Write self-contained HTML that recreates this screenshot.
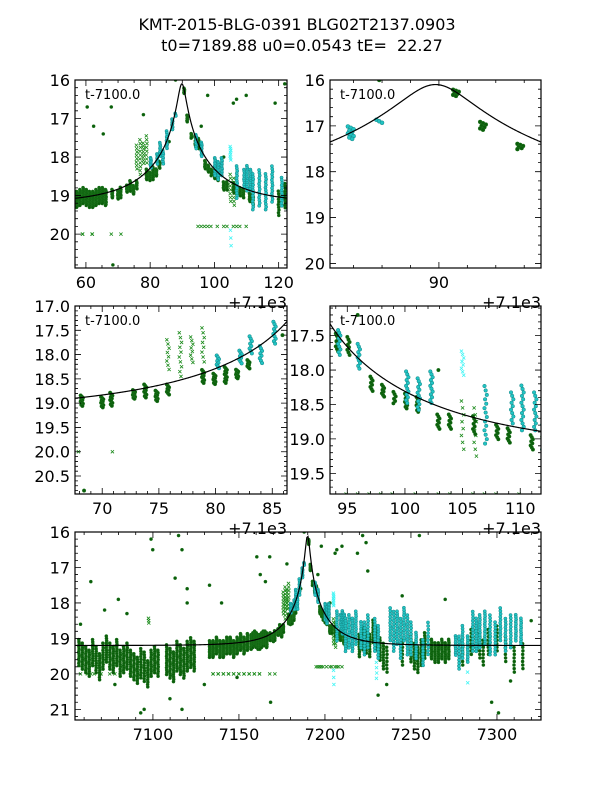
<!DOCTYPE html>
<html><head><meta charset="utf-8">
<style>
html,body{margin:0;padding:0;background:#fff;}
svg{display:block;font-family:"DejaVu Sans","Liberation Sans",sans-serif;}
</style></head>
<body>
<svg id="fig" width="600" height="800" viewBox="0 0 600 800" xmlns="http://www.w3.org/2000/svg">
<rect width="600" height="800" fill="#fff"/>
<text x="297" y="30" font-size="16" text-anchor="middle">KMT-2015-BLG-0391 BLG02T2137.0903</text>
<text x="302" y="51" font-size="16" text-anchor="middle">t0=7189.88 u0=0.0543 tE=&#160; 22.27</text>
</svg>
<script>
// model parameters
const t0 = 7189.88, u0 = 0.0543, tE = 22.27, mBase = 19.2, fS = 0.94;
// data groups: [time, centre mag, half-spread, count]
const darkGreen = [
[7057,19.4,0.4,12],[7059,19.5,0.4,12],[7061,19.6,0.4,12],[7063,19.7,0.4,12],[7065,19.4,0.4,12],[7067,19.6,0.4,12],
[7069,19.8,0.4,12],[7071,19.5,0.4,12],[7073,19.3,0.4,12],[7075,19.5,0.4,12],[7077,19.6,0.4,12],[7079,19.4,0.4,12],
[7081,19.7,0.4,12],[7083,19.6,0.4,12],[7085,19.5,0.4,12],[7087,19.7,0.4,12],[7089,19.8,0.4,12],[7091,19.9,0.4,12],
[7093,19.7,0.45,12],[7095,19.8,0.45,12],[7097,20.0,0.4,12],[7099,19.7,0.4,12],[7101,19.6,0.4,12],[7103,19.7,0.4,12],
[7108,19.6,0.45,14],[7110,19.7,0.45,14],[7112,19.8,0.45,14],[7114,19.5,0.45,14],[7116,19.6,0.45,14],[7118,19.7,0.45,14],
[7120,19.5,0.45,14],[7122,19.4,0.45,14],[7124,19.5,0.45,14],
[7133,19.3,0.25,16],[7135,19.3,0.25,16],[7137,19.2,0.25,16],[7139,19.3,0.25,16],[7141,19.3,0.25,16],[7143,19.2,0.25,16],
[7145,19.2,0.25,16],[7147,19.3,0.25,16],[7149,19.2,0.25,16],[7151,19.1,0.25,16],[7153,19.2,0.25,16],[7155,19.1,0.25,16],
[7157.2,19.1,0.22,16],[7158.2,19.05,0.22,16],[7159.2,19.0,0.22,16],[7160.2,19.05,0.22,16],[7161.2,19.1,0.22,16],
[7162.2,19.1,0.22,16],[7163.2,19.05,0.22,16],[7164.2,19.0,0.22,16],[7165.2,19.0,0.22,16],[7166.2,19.05,0.22,16],
[7168.2,18.95,0.12,10],[7170,18.98,0.12,10],[7170.8,18.92,0.15,10],[7172.8,18.82,0.1,10],[7173.8,18.75,0.15,10],
[7174.8,18.85,0.12,10],[7175.8,18.72,0.12,8],[7178.9,18.45,0.15,10],[7179.9,18.5,0.12,10],[7180.9,18.42,0.18,12],
[7181.9,18.4,0.1,10],[7182.9,18.2,0.1,8],[7190.6,16.28,0.08,7],[7191.55,17.0,0.1,7],[7192.86,17.45,0.07,6],
[7194.1,17.6,0.15,8],[7195.1,17.65,0.15,8],[7197.1,18.2,0.12,8],[7198.1,18.3,0.1,8],[7199.1,18.4,0.1,6],
[7200.1,18.45,0.12,10],[7201.1,18.5,0.12,10],[7202.9,18.75,0.12,8],[7203.9,18.75,0.12,8],[7206,18.8,0.15,8],
[7208,18.9,0.12,8],[7209,18.95,0.12,8],[7211,19.05,0.12,8],[7212,19.1,0.15,8],
[7220,19.2,0.35,10],[7222,19.0,0.35,10],[7224,19.1,0.35,10],[7226,19.2,0.35,10],[7228,18.8,0.35,10],[7230,19.0,0.35,10],
[7232,19.3,0.35,10],[7234,19.5,0.4,10],[7236,19.6,0.4,8],[7245,19.4,0.4,8],[7250,19.3,0.4,10],[7252,19.5,0.4,10],
[7254,19.6,0.4,10],[7256,19.4,0.4,10],[7258,19.2,0.4,10],[7262,19.3,0.3,12],[7264,19.4,0.3,12],[7266,19.4,0.3,12],
[7268,19.3,0.3,12],[7270,19.4,0.3,12],[7272,19.3,0.3,12],[7280,19.4,0.4,8],[7285,19.1,0.4,8],[7288,19.0,0.4,8],
[7290,19.2,0.4,8],[7292,19.4,0.4,8],[7295,19.1,0.4,8],[7300,19.0,0.4,8],[7305,19.3,0.4,8],[7310,19.6,0.4,8],[7315,19.5,0.4,8]
];
// isolated outlier points: [time, mag]
const outliers = [
[7099,16.2],[7100,16.5],[7115,16.1],[7117,16.5],[7113,17.3],[7120,17.6],[7133,17.5],[7186,17.6],[7178,16.9],
[7160.5,16.7],[7162.5,17.2],[7165.5,17.4],[7168,16.7],[7168.5,20.8],[7198,16.4],[7207,16.5],[7219,16.6],
[7206,16.6],[7210,16.4],[7222,16.1],[7224,16.3],[7225,17.1],[7255,16.1],[7297,20.8],[7301,21.1],[7093,21.1],
[7095,21.0],[7117,21.0],[7110,20.7],[7231,20.6],[7236,20.3],[7072,18.2],[7080,17.9],[7120,18.0],[7078,20.3],
[7058,18.6],[7149,20.1],[7064,17.4],[7085,18.3],[7130,20.3],[7140,18.0],[7245,17.8],[7270,17.9],[7308,20.2],
[7320,18.5],[7188,16.0],[7196,17.2],[7203,18.0]
];
const cyanDots = [
[7180.2,18.15,0.15,8],[7182.2,18.05,0.15,8],[7183.1,17.8,0.2,8],[7184,18.0,0.2,8],[7185.2,17.55,0.25,10],
[7186.9,17.15,0.15,10],[7187.9,16.9,0.05,3],[7194.3,17.6,0.2,10],
[7196,17.8,0.2,10],[7200.2,18.25,0.25,12],[7201.2,18.35,0.25,12],[7202.3,18.25,0.25,12],[7207,18.65,0.45,14],
[7209.3,18.55,0.25,10],[7210.2,18.55,0.35,14],[7211.3,18.6,0.3,12],[7212,18.9,0.5,14],[7214,18.8,0.5,14],
[7216,18.9,0.5,14],[7218,18.7,0.5,14],[7221,18.9,0.4,12],[7223,19.0,0.5,12],[7225,18.8,0.5,12],[7229,18.9,0.5,12],
[7231,19.1,0.5,12],[7238,18.6,0.5,12],[7240,18.8,0.6,14],[7242,18.7,0.5,14],[7244,19.0,0.6,14],[7246,18.6,0.5,14],
[7248,18.9,0.6,14],[7250,19.0,0.5,12],[7253,19.2,0.4,12],[7257,19.4,0.4,10],[7260,19.0,0.5,10],[7276,19.2,0.3,10],
[7278,19.4,0.5,12],[7280,19.1,0.5,12],[7283,19.3,0.4,12],[7286,18.8,0.6,14],[7288,18.9,0.5,14],[7290,18.8,0.5,14],
[7293,18.7,0.5,14],[7296,18.9,0.6,14],[7299,19.0,0.5,12],[7302,18.6,0.5,12],[7305,18.9,0.5,12],[7308,18.8,0.5,12],
[7311,18.7,0.4,12],[7314,18.8,0.4,12]
];
const greenX = [
[7058,20.0,0,1],[7062,20.0,0,1],[7064,20.0,0,1],[7066,20.0,0,1],[7070,20.0,0,1],[7075,20.0,0,1],[7078,20.0,0,1],
[7135,20.0,0,2],[7138,20.0,0,2],[7141,20.0,0,2],[7144,20.0,0,2],[7147,20.0,0,2],[7150,20.0,0,2],[7153,20.0,0,2],
[7156,20.0,0,2],[7159,20.0,0,2],[7162,20.0,0,2],[7168,20.0,0,1],[7171,20.0,0,1],[7175.8,18.0,0.35,8],
[7176.9,18.0,0.5,10],[7177.9,17.9,0.3,8],[7178.9,17.8,0.4,8],[7195,19.8,0,1],[7196,19.8,0,1],[7197,19.8,0,1],
[7198,19.8,0,1],[7199,19.8,0,1],[7201,19.8,0,1],[7203,19.8,0,1],[7204,19.8,0,1],[7206,19.8,0,1],[7207,19.8,0,1],
[7208,19.8,0,1],[7210,19.8,0,1],[7205,18.8,0.4,8],[7206.1,18.9,0.4,8],[7097.5,18.5,0.1,3]
];
const cyanX = [
[7205,17.9,0.2,8],[7205.1,20.1,0.3,3],[7230,19.9,0.3,4],[7253,19.2,0.2,2],[7283,20.1,0.3,2]
];
// panels: time range, magnitude range, ticks
const panels = [
 {name:'panel-full-event', x0:75,x1:287,y0:80,y1:268, t0:7156.6,t1:7222.6, m0:16,m1:20.88, xMaj:20,xMin:5,yMaj:1,yMin:0.2, xl:[60,80,100,120], yl:[16,17,18,19,20], off:true, dec:0, r:1.6},
 {name:'panel-peak', x0:330,x1:541,y0:80,y1:268, t0:7186.17,t1:7193.59, m0:16,m1:20.1, xMaj:5,xMin:1,yMaj:1,yMin:0.2, xl:[90], yl:[16,17,18,19,20], off:true, dec:0, r:2},
 {name:'panel-rise', x0:75,x1:287,y0:306,y1:494, t0:7167.6,t1:7186.3, m0:17,m1:20.87, xMaj:5,xMin:1,yMaj:0.5,yMin:0.1, xl:[70,75,80,85], yl:[17,17.5,18,18.5,19,19.5,20,20.5], off:true, dec:1, r:1.8},
 {name:'panel-decline', x0:330,x1:541,y0:306,y1:494, t0:7193.5,t1:7211.8, m0:17.07,m1:19.8, xMaj:5,xMin:1,yMaj:0.5,yMin:0.1, xl:[95,100,105,110], yl:[17.5,18,18.5,19,19.5], off:true, dec:1, r:1.8},
 {name:'panel-season', x0:75,x1:541,y0:532,y1:720, t0:7054.7,t1:7325.6, m0:16,m1:21.3, xMaj:50,xMin:10,yMaj:1,yMin:0.2, xl:[7100,7150,7200,7250,7300], yl:[16,17,18,19,20,21], off:false, dec:0, r:1.6}
];
const NS='http://www.w3.org/2000/svg';
const fig=document.getElementById('fig');
function mk(tag,attrs,parent){const e=document.createElementNS(NS,tag);for(const k in attrs)e.setAttribute(k,attrs[k]);(parent||fig).appendChild(e);return e;}
function modelMag(t){const tau=(t-t0)/tE;const u=Math.sqrt(u0*u0+tau*tau);const A=(u*u+2)/(u*Math.sqrt(u*u+4));return mBase-2.5*Math.log10(fS*(A-1)+1);}
let clipId=0;
panels.forEach(p=>{
  const off=p.off?7100:0;
  const xs=t=>p.x0+(t-p.t0)/(p.t1-p.t0)*(p.x1-p.x0);
  const ys=m=>p.y0+(m-p.m0)/(p.m1-p.m0)*(p.y1-p.y0);
  const g=mk('g',{});
  
  
  const cid='clip'+(clipId++);
  const cp=mk('clipPath',{id:cid},g);
  mk('rect',{x:p.x0,y:p.y0,width:p.x1-p.x0,height:p.y1-p.y0},cp);
  const plot=mk('g',{'clip-path':'url(#'+cid+')'},g);
  
  
  function drawSet(set,kind){
    set.forEach(d=>{
      const n=d.length>3?d[3]:1, s=d.length>2?d[2]:0;
      for(let i=0;i<n;i++){
        const m=n===1?d[1]:d[1]-s+2*s*(i+0.5)/n;
        const dt=(((i*7)%5)-2)*0.05;
        const x=xs(d[0]+dt), y=ys(m);
        if(x<p.x0-4||x>p.x1+4)continue;
        let el;
        if(kind==='dg') el=mk('circle',{cx:x,cy:y,r:p.r,fill:'#0b5d0b',stroke:'#1f7a1f','stroke-width':0.4},plot);
        else if(kind==='cy') el=mk('circle',{cx:x,cy:y,r:p.r,fill:'#22c4c4',stroke:'#138585','stroke-width':0.5},plot);
        else { const sz=1.6, col=kind==='gx'?'#1a8a1a':'#3ff5f5';
          el=mk('path',{d:`M${x-sz},${y-sz}L${x+sz},${y+sz}M${x-sz},${y+sz}L${x+sz},${y-sz}`,stroke:col,'stroke-width':0.8,fill:'none'},plot);}
        
        
      }
    });
  }
  drawSet(greenX,'gx');drawSet(cyanX,'cx');drawSet(darkGreen,'dg');drawSet(outliers,'dg');drawSet(cyanDots,'cy');
  let dpath='';const N=400;
  for(let i=0;i<=N;i++){const t=p.t0+(p.t1-p.t0)*i/N;dpath+=(i?'L':'M')+xs(t).toFixed(2)+','+ys(modelMag(t)).toFixed(2);}
  const curve=mk('path',{d:dpath,fill:'none',stroke:'#000','stroke-width':1.2},plot);
  
  
  let tk='';
  const tmin=p.t0-off, tmax=p.t1-off;
  for(let v=Math.ceil(tmin/p.xMin)*p.xMin; v<=tmax+1e-9; v+=p.xMin){
    const isMaj=Math.abs(v/p.xMaj-Math.round(v/p.xMaj))<1e-6;const L=isMaj?6:3;const x=xs(v+off);
    tk+=`M${x},${p.y1}v${-L}M${x},${p.y0}v${L}`;
  }
  for(let v=Math.ceil(p.m0/p.yMin-1e-6)*p.yMin; v<=p.m1+1e-9; v+=p.yMin){
    const isMaj=Math.abs(v/p.yMaj-Math.round(v/p.yMaj))<1e-6;const L=isMaj?6:3;const y=ys(v);
    tk+=`M${p.x0},${y}h${L}M${p.x1},${y}h${-L}`;
  }
  mk('path',{d:tk,stroke:'#000','stroke-width':0.8,fill:'none'},g);
  const fr=mk('rect',{x:p.x0,y:p.y0,width:p.x1-p.x0,height:p.y1-p.y0,fill:'none',stroke:'#000','stroke-width':1.2},g);
  
  
  p.xl.forEach(v=>{const t=mk('text',{x:xs(v+off),y:p.y1+20,'font-size':16,'text-anchor':'middle'},g);t.textContent=String(v);
    
    });
  p.yl.forEach(v=>{const t=mk('text',{x:p.x0-5,y:ys(v)+6,'font-size':16,'text-anchor':'end'},g);t.textContent=v.toFixed(p.dec);
    
    });
  if(p.off){const t=mk('text',{x:p.x1,y:p.y1+40,'font-size':16,'text-anchor':'end'},g);t.textContent='+7.1e3';
    
    }
  if(p.name!=='panel-season'){const t=mk('text',{x:p.x0+10,y:p.y0+19,'font-size':13},g);t.textContent='t-7100.0';
    
    }
});
</script>
</body></html>
